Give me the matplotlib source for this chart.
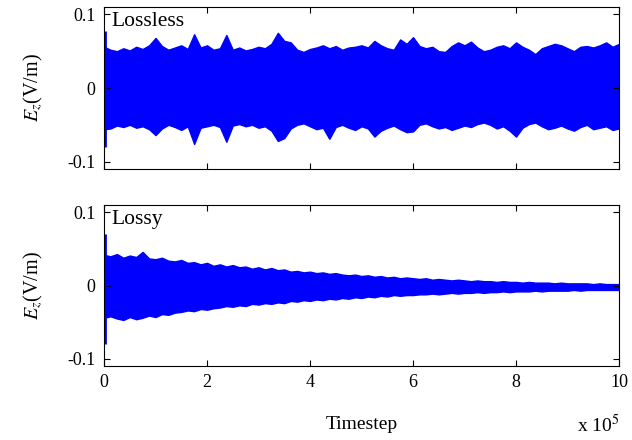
import numpy as np
import matplotlib
matplotlib.use("Agg")
import matplotlib.pyplot as plt

plt.rcParams["font.family"] = ["Liberation Serif", "DejaVu Serif"]
plt.rcParams["mathtext.fontset"] = "stix"

# envelope of Ez (V/m), sampled every 0.125 x 10^5 timesteps, 0 .. 10 x 10^5
lossless_upper = [
    0.056, 0.052, 0.050, 0.054, 0.051, 0.056, 0.053, 0.058, 0.068, 0.057,
    0.052, 0.055, 0.058, 0.053, 0.073, 0.055, 0.058, 0.052, 0.054, 0.072,
    0.052, 0.055, 0.051, 0.053, 0.056, 0.054, 0.060, 0.075, 0.064, 0.062,
    0.052, 0.049, 0.053, 0.055, 0.058, 0.054, 0.057, 0.052, 0.055, 0.056,
    0.058, 0.055, 0.064, 0.058, 0.054, 0.052, 0.066, 0.060, 0.069, 0.057,
    0.054, 0.056, 0.050, 0.049, 0.057, 0.062, 0.058, 0.063, 0.055, 0.050,
    0.052, 0.056, 0.058, 0.054, 0.062, 0.056, 0.052, 0.046, 0.054, 0.057,
    0.060, 0.058, 0.054, 0.050, 0.056, 0.057, 0.055, 0.058, 0.062, 0.056,
    0.060,
]
lossless_lower = [
    -0.056, -0.055, -0.051, -0.053, -0.050, -0.054, -0.052, -0.056, -0.064, -0.055,
    -0.050, -0.053, -0.057, -0.052, -0.076, -0.054, -0.052, -0.050, -0.053, -0.073,
    -0.051, -0.049, -0.052, -0.050, -0.054, -0.052, -0.058, -0.072, -0.068, -0.055,
    -0.050, -0.048, -0.052, -0.056, -0.054, -0.069, -0.053, -0.050, -0.054, -0.057,
    -0.052, -0.055, -0.066, -0.058, -0.054, -0.051, -0.056, -0.060, -0.059, -0.050,
    -0.048, -0.052, -0.055, -0.053, -0.057, -0.054, -0.051, -0.053, -0.049, -0.047,
    -0.050, -0.055, -0.052, -0.058, -0.066, -0.054, -0.049, -0.047, -0.052, -0.056,
    -0.054, -0.051, -0.055, -0.058, -0.053, -0.050, -0.056, -0.054, -0.052, -0.057,
    -0.055,
]
lossy_upper = [
    0.042, 0.040, 0.043, 0.038, 0.041, 0.039, 0.046, 0.037, 0.036, 0.038,
    0.034, 0.033, 0.035, 0.031, 0.032, 0.029, 0.031, 0.027, 0.029, 0.026,
    0.028, 0.025, 0.026, 0.023, 0.025, 0.022, 0.024, 0.021, 0.022, 0.019,
    0.020, 0.018, 0.019, 0.017, 0.018, 0.016, 0.017, 0.015, 0.014, 0.015,
    0.013, 0.014, 0.012, 0.013, 0.011, 0.012, 0.010, 0.011, 0.010, 0.009,
    0.010, 0.008, 0.009, 0.008, 0.007, 0.008, 0.007, 0.006, 0.007, 0.006,
    0.006, 0.005, 0.006, 0.005, 0.005, 0.004, 0.005, 0.004, 0.004, 0.004,
    0.003, 0.004, 0.003, 0.003, 0.003, 0.003, 0.002, 0.003, 0.002, 0.002,
    0.002,
]
lossy_lower = [
    -0.044, -0.042, -0.045, -0.047, -0.043, -0.046, -0.044, -0.041, -0.043, -0.039,
    -0.040, -0.037, -0.036, -0.034, -0.035, -0.032, -0.033, -0.031, -0.030, -0.028,
    -0.029, -0.027, -0.028, -0.025, -0.026, -0.024, -0.025, -0.023, -0.024, -0.021,
    -0.022, -0.020, -0.021, -0.019, -0.020, -0.018, -0.019, -0.017, -0.018, -0.016,
    -0.017, -0.015, -0.016, -0.014, -0.015, -0.013, -0.014, -0.013, -0.013, -0.012,
    -0.012, -0.011, -0.012, -0.011, -0.010, -0.011, -0.010, -0.010, -0.009, -0.010,
    -0.009, -0.009, -0.008, -0.009, -0.008, -0.008, -0.008, -0.007, -0.008, -0.007,
    -0.007, -0.007, -0.007, -0.006, -0.007, -0.006, -0.006, -0.006, -0.006, -0.006,
    -0.006,
]
# initial excitation pulse at timestep 0 (min, max)
lossless_pulse = [-0.080, 0.078]
lossy_pulse = [-0.080, 0.071]

titles = ["Lossless", "Lossy"]
xticks = [0, 2, 4, 6, 8, 10]
yticks = [-0.1, 0, 0.1]
ytick_labels = ["-0.1", "0", "0.1"]

t = np.linspace(0, 10, len(lossless_upper))

fig = plt.figure(figsize=(6.32, 4.40), dpi=100)
ax1 = fig.add_axes([0.1646, 0.616, 0.8149, 0.368])
ax2 = fig.add_axes([0.1646, 0.168, 0.8149, 0.366])

series = [(lossless_lower, lossless_upper, lossless_pulse),
          (lossy_lower, lossy_upper, lossy_pulse)]

for ax, (lo, hi, pulse), name in zip([ax1, ax2], series, titles):
    ax.fill_between(t, lo, hi, color="#0000ff", lw=1.0)
    ax.vlines(0.02, pulse[0], pulse[1], color="#0000ff", lw=2)
    ax.set_xlim(0, 10)
    ax.set_ylim(-0.11, 0.11)
    ax.set_xticks(xticks)
    ax.set_yticks(yticks)
    ax.set_yticklabels(ytick_labels)
    ax.tick_params(direction="in", top=True, right=True, labelsize=13,
                   length=4, width=0.8, pad=6)
    ax.set_ylabel("$E_z$(V/m)", fontsize=14.5, labelpad=16)
    ax.text(0.014, 0.97, name, transform=ax.transAxes, fontsize=15.5,
            va="top", ha="left")

ax1.set_xticklabels([])
ax2.set_xlabel("Timestep", fontsize=14, labelpad=18)
ax2.text(1.0, -0.30, "x 10$^5$", transform=ax2.transAxes, fontsize=14,
         ha="right", va="top")

fig.savefig("out.png", dpi=100)
plt.close(fig)
